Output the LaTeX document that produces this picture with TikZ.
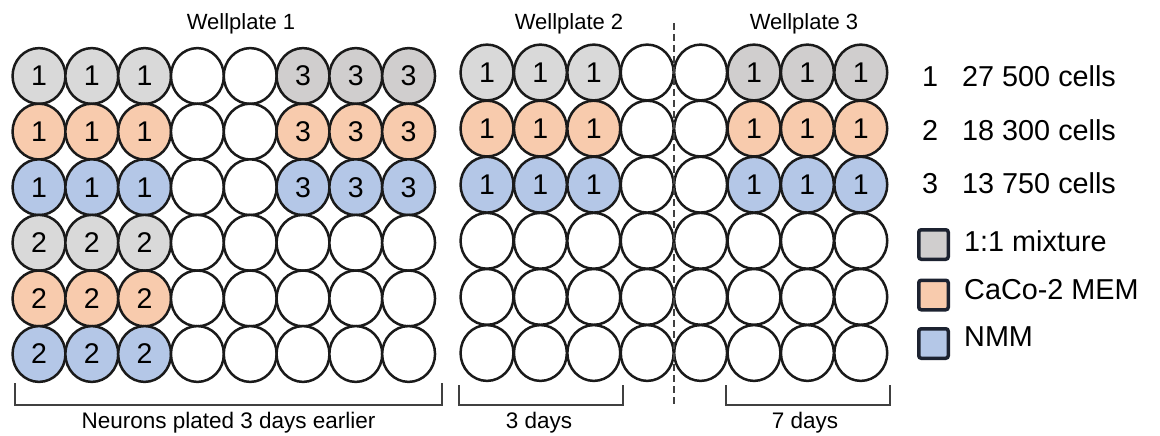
\documentclass[tikz,border=0pt]{standalone}
\usepackage{fontspec}
\setmainfont{Liberation Sans}
\usetikzlibrary{shapes.geometric}
\definecolor{gl}{HTML}{D9D9D9}
\definecolor{gd}{HTML}{D0CECE}
\definecolor{or}{HTML}{F8CBAD}
\definecolor{bl}{HTML}{B4C7E7}
\definecolor{wh}{HTML}{FFFFFF}
\definecolor{edge}{HTML}{1A1A1A}
\definecolor{navy}{HTML}{1C2230}
\definecolor{brk}{HTML}{404040}
\tikzset{
  well/.style={ellipse, draw=edge, line width=2.5pt, fill=wh, minimum width=52.9pt, minimum height=55.8pt, inner sep=0pt, font=\fontsize{28.5}{30}\selectfont, text=black},
  title/.style={anchor=base, inner sep=0pt, font=\fontsize{22}{24}\selectfont},
  sublabel/.style={anchor=base, inner sep=0pt, font=\fontsize{22.5}{24}\selectfont},
  legtxt/.style={anchor=base west, inner sep=0pt, font=\fontsize{28.8}{30}\selectfont},
  legbox/.style={draw=navy, line width=3.5pt, rounded corners=2.5pt, minimum size=29.5pt, inner sep=0pt},
  bracket/.style={draw=brk, line width=1.5pt},
  sep/.style={draw=brk, line width=1.3pt, dash pattern=on 7pt off 4pt}
}
\begin{document}
\begin{tikzpicture}[x=1pt,y=-1pt]
\useasboundingbox (0,0) rectangle (1160,436);
% Wellplate 1
\foreach \r/\y/\f/\n in {1/76/gl/1,2/131.6/or/1,3/187.2/bl/1,4/242.8/gl/2,5/298.4/or/2,6/354/bl/2}{
  \foreach \c in {1,2,3}
    \node[well,fill=\f] (pa-\r-\c) at ({39+52.8*(\c-1)},\y) {\n};
  \foreach \c in {4,5}
    \node[well] (pa-\r-\c) at ({39+52.8*(\c-1)},\y) {};
}
\foreach \r/\y/\f/\n in {1/76/gd/3,2/131.6/or/3,3/187.2/bl/3}{
  \foreach \c in {6,7,8}
    \node[well,fill=\f] (pa-\r-\c) at ({39+52.8*(\c-1)},\y) {\n};
}
\foreach \r/\y in {4/242.8,5/298.4,6/354}{
  \foreach \c in {6,7,8}
    \node[well] (pa-\r-\c) at ({39+52.8*(\c-1)},\y) {};
}
% Wellplates 2 and 3
\foreach \r/\y/\f/\g in {1/72.5/gl/gd,2/128.6/or/or,3/184.7/bl/bl}{
  \foreach \c in {1,2,3}
    \node[well,fill=\f] (pb-\r-\c) at ({487+53.4*(\c-1)},\y) {1};
  \foreach \c in {4,5}
    \node[well] (pb-\r-\c) at ({487+53.4*(\c-1)},\y) {};
  \foreach \c in {6,7,8}
    \node[well,fill=\g] (pb-\r-\c) at ({487+53.4*(\c-1)},\y) {1};
}
\foreach \r/\y in {4/240.8,5/296.9,6/353}{
  \foreach \c in {1,...,8}
    \node[well] (pb-\r-\c) at ({487+53.4*(\c-1)},\y) {};
}
% titles
\node[title] (t1) at (241,30) {Wellplate 1};
\node[title] (t2) at (569,30) {Wellplate 2};
\node[title] (t3) at (804,30) {Wellplate 3};
% separator
\coordinate (sepTop) at (674,23);
\coordinate (sepBot) at (674,405);
\draw[sep] (sepTop) -- (sepBot);
% brackets
\coordinate (ba1) at (15,383); \coordinate (ba2) at (15,405);
\coordinate (ba3) at (442,405); \coordinate (ba4) at (442,383);
\draw[bracket] (ba1) -- (ba2) -- (ba3) -- (ba4);
\coordinate (bb1) at (459,385); \coordinate (bb2) at (459,405);
\coordinate (bb3) at (623,405); \coordinate (bb4) at (623,385);
\draw[bracket] (bb1) -- (bb2) -- (bb3) -- (bb4);
\coordinate (bc1) at (726,385); \coordinate (bc2) at (726,405);
\coordinate (bc3) at (890,405); \coordinate (bc4) at (890,385);
\draw[bracket] (bc1) -- (bc2) -- (bc3) -- (bc4);
\node[sublabel] (l1) at (228.5,428) {Neurons plated 3 days earlier};
\node[sublabel] (l2) at (539,428) {3 days};
\node[sublabel] (l3) at (805,428) {7 days};
% legend
\node[legtxt] (n1) at (922,87) {1};
\node[legtxt] (c1) at (962,87) {27 500 cells};
\node[legtxt] (n2) at (922,140) {2};
\node[legtxt] (c2) at (962,140) {18 300 cells};
\node[legtxt] (n3) at (922,193.5) {3};
\node[legtxt] (c3) at (962,193.5) {13 750 cells};
\node[legbox,fill=gd] (k1) at (933.5,244.5) {};
\node[legbox,fill=or] (k2) at (933.5,295) {};
\node[legbox,fill=bl] (k3) at (933.5,343.5) {};
\node[legtxt] (m1) at (964,251.7) {1:1 mixture};
\node[legtxt] (m2) at (964,299.3) {CaCo-2 MEM};
\node[legtxt] (m3) at (964,346.7) {NMM};
\end{tikzpicture}
\end{document}
